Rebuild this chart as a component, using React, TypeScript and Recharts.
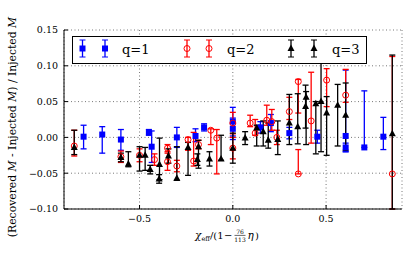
import { ScatterChart, Scatter, XAxis, YAxis, CartesianGrid, ErrorBar, Legend } from "recharts"

const SERIF = "'DejaVu Serif', serif"
const BLUE = "#0000ff"
const RED = "#ff0000"
const BLACK = "#000000"

const X_DOMAIN = [-0.905, 0.907]
const Y_DOMAIN = [-0.1, 0.15]
const X_TICKS = [-0.5, 0, 0.5]
const Y_TICKS = [-0.1, -0.05, 0, 0.05, 0.1, 0.15]

// q = 1
const q1Chi = [-0.8, -0.7, -0.6, -0.45, -0.435, -0.3, -0.2, -0.154, 0.0, 0.0, 0.148, 0.204, 0.303, 0.453, 0.605, 0.605, 0.705, 0.807]
const q1Dev = [0.001, 0.004, -0.003, 0.007, -0.013, 0.0, 0.002, 0.014, 0.022, 0.012, 0.014, 0.02, 0.006, 0.001, 0.002, -0.014, -0.014, 0.001]
const q1Err = [[0.017, 0.016], [0.026, 0.011], [0.015, 0.014], [0.004, 0.004], [0.022, 0.022], [0.014, 0.014], [0.008, 0.01], [0.005, 0.005], [0.02, 0.02], [0.015, 0.015], [0.008, 0.008], [0.012, 0.012], [0.008, 0.008], [0.009, 0.009], [0.022, 0.092], [0.006, 0.006], [0.0, 0.079], [0.018, 0.027]]

// q = 2
const q2Chi = [-0.85, -0.6, -0.5, -0.42, -0.35, -0.35, -0.3, -0.24, -0.21, -0.184, -0.118, -0.086, 0.0, 0.0, 0.093, 0.12, 0.182, 0.209, 0.236, 0.303, 0.351, 0.351, 0.42, 0.503, 0.605, 0.855]
const q2Dev = [-0.012, -0.027, -0.025, -0.031, -0.015, -0.034, -0.04, -0.003, -0.033, -0.01, 0.01, -0.001, -0.015, 0.02, 0.02, 0.006, 0.024, 0.022, 0.0, 0.036, 0.078, -0.051, 0.023, 0.08, 0.059, -0.051]
const q2Err = [[0.014, 0.022], [0.008, 0.008], [0.009, 0.009], [0.008, 0.008], [0.005, 0.005], [0.012, 0.012], [0.008, 0.008], [0.015, 0.003], [0.007, 0.04], [0.006, 0.006], [0.02, 0.002], [0.05, 0.012], [0.015, 0.015], [0.015, 0.015], [0.005, 0.011], [0.003, 0.019], [0.007, 0.021], [0.012, 0.017], [0.01, 0.01], [0.011, 0.02], [0.044, 0.003], [0.0, 0.034], [0.031, 0.068], [0.037, 0.016], [0.01, 0.036], [0.049, 0.164]]

// q = 3
const q3Chi = [-0.85, -0.6, -0.56, -0.5, -0.47, -0.443, -0.393, -0.395, -0.345, -0.3, -0.24, -0.184, -0.19, -0.125, -0.063, 0.0, 0.066, 0.128, 0.163, 0.19, 0.241, 0.303, 0.348, 0.393, 0.39, 0.445, 0.473, 0.503, 0.562, 0.605, 0.855]
const q3Dev = [-0.014, -0.028, -0.037, -0.025, -0.025, -0.045, -0.038, -0.058, -0.026, -0.057, -0.014, -0.013, -0.031, -0.03, -0.03, -0.015, -0.001, 0.013, 0.008, -0.004, -0.003, 0.02, 0.015, 0.056, 0.043, 0.047, 0.05, 0.034, 0.045, 0.031, 0.005]
const q3Err = [[0.01, 0.024], [0.006, 0.006], [0.004, 0.017], [0.022, 0.012], [0.021, 0.011], [0.006, 0.006], [0.021, 0.037], [0.006, 0.006], [0.01, 0.01], [0.003, 0.044], [0.039, 0.007], [0.03, 0.009], [0.008, 0.008], [0.01, 0.01], [0.002, 0.033], [0.021, 0.021], [0.009, 0.009], [0.025, 0.004], [0.02, 0.015], [0.011, 0.024], [0.021, 0.026], [0.03, 0.04], [0.024, 0.046], [0.066, 0.008], [0.03, 0.03], [0.07, 0.003], [0.07, 0.068], [0.059, 0.023], [0.057, 0.029], [0.049, 0.045], [0.105, 0.11]]

const q1Data = q1Chi.map((x, i) => ({ x, y: q1Dev[i], err: q1Err[i] }))
const q2Data = q2Chi.map((x, i) => ({ x, y: q2Dev[i], err: q2Err[i] }))
const q3Data = q3Chi.map((x, i) => ({ x, y: q3Dev[i], err: q3Err[i] }))

const Square = (p: any) => <rect x={p.cx - 3} y={p.cy - 3} width={6} height={6} fill={BLUE} />
const Ring = (p: any) => <circle cx={p.cx} cy={p.cy} r={3} fill="none" stroke={RED} strokeWidth={1} />
const Tri = (p: any) => (
  <polygon points={`${p.cx},${p.cy - 4} ${p.cx - 3.5},${p.cy + 2.5} ${p.cx + 3.5},${p.cy + 2.5}`} fill={BLACK} />
)

const fmtTick = (v: number) => {
  const s = Math.abs(v) < 1e-9 ? "0.00" : v.toFixed(2)
  return s.replace("-", "\u2212")
}
const fmtXTick = (v: number) => {
  const s = Math.abs(v) < 1e-9 ? "0.0" : v.toFixed(1)
  return s.replace("-", "\u2212")
}

function LegendMark({ x, color, kind }: { x: number; color: string; kind: string }) {
  const cy = 12.5
  return (
    <g>
      <line x1={x} x2={x} y1={4} y2={21} stroke={color} strokeWidth={1.3} />
      <line x1={x - 3} x2={x + 3} y1={4} y2={4} stroke={color} strokeWidth={1} />
      <line x1={x - 3} x2={x + 3} y1={21} y2={21} stroke={color} strokeWidth={1} />
      {kind === "sq" && <Square cx={x} cy={cy} />}
      {kind === "ci" && <Ring cx={x} cy={cy} />}
      {kind === "tr" && <Tri cx={x} cy={cy} />}
    </g>
  )
}

function LegendBox() {
  const items = [
    { a: 10.5, b: 33, t: 50, color: BLUE, kind: "sq", label: "q=1" },
    { a: 115, b: 137, t: 155, color: RED, kind: "ci", label: "q=2" },
    { a: 219, b: 242, t: 260, color: BLACK, kind: "tr", label: "q=3" },
  ]
  return (
    <svg width={295} height={28} style={{ display: "block" }}>
      <rect x={0.5} y={0.5} width={294} height={27} fill="#fff" stroke="#000" strokeWidth={1} />
      {items.map((it) => (
        <g key={it.label}>
          <LegendMark x={it.a} color={it.color} kind={it.kind} />
          <LegendMark x={it.b} color={it.color} kind={it.kind} />
          <text x={it.t} y={18} fontFamily={SERIF} fontSize={13} fill="#000">
            {it.label}
          </text>
        </g>
      ))}
    </svg>
  )
}

const YLabel = () => {
  const cx = 16
  const cy = 127
  return (
    <text x={cx} y={cy} transform={`rotate(-90 ${cx} ${cy})`} textAnchor="middle" fontFamily={SERIF} fontSize={10.8} fill="#000">
      (Recovered <tspan fontStyle="italic">M</tspan> - Injected <tspan fontStyle="italic">M</tspan>) / Injected{" "}
      <tspan fontStyle="italic">M</tspan>
    </text>
  )
}

const XLabel = ({ viewBox }: any) => {
  const c = viewBox.x + viewBox.width / 2
  const y = 239
  const f = { fontFamily: SERIF, fill: "#000" }
  return (
    <g>
      <text x={c - 38} y={y} fontSize={10.5} fontStyle="italic" {...f}>χ</text>
      <text x={c - 31.5} y={y + 1.5} fontSize={6.5} {...f}>eff</text>
      <text x={c - 23} y={y} fontSize={10} {...f}>/(1</text>
      <text x={c - 9} y={y} fontSize={10} {...f}>−</text>
      <text x={c + 7} y={y - 5.3} fontSize={6} textAnchor="middle" {...f}>76</text>
      <line x1={c + 1.5} x2={c + 12.5} y1={y - 3.6} y2={y - 3.6} stroke="#000" strokeWidth={0.6} />
      <text x={c + 7} y={y + 2.6} fontSize={6} textAnchor="middle" {...f}>113</text>
      <text x={c + 14.5} y={y} fontSize={10.5} fontStyle="italic" {...f}>η</text>
      <text x={c + 22} y={y} fontSize={10} {...f}>)</text>
    </g>
  )
}

const Title = ({ viewBox }: any) => (
  <text x={viewBox.x + viewBox.width / 2} y={25} textAnchor="middle" fontFamily={SERIF} fontSize={14.5} fill="#000">
    SEOBNRv2
  </text>
)

export default function App() {
  return (
    <div style={{ position: "absolute", left: 0, top: 0, background: "#fff" }}>
      <ScatterChart width={415} height={257} margin={{ top: 30, right: 13, bottom: 0, left: 0 }}>
        <CartesianGrid stroke="#555" strokeWidth={0.8} strokeDasharray="1 2.5" />
        <XAxis
          dataKey="x"
          type="number"
          domain={X_DOMAIN}
          ticks={X_TICKS}
          allowDataOverflow
          height={48}
          stroke="#000"
          tickSize={-4}
          tickMargin={10}
          tickFormatter={fmtXTick}
          tick={{ fill: "#000", fontFamily: SERIF, fontSize: 9.5 }}
          label={{ content: XLabel }}
        />
        <YAxis
          dataKey="y"
          type="number"
          domain={Y_DOMAIN}
          ticks={Y_TICKS}
          allowDataOverflow
          width={64}
          stroke="#000"
          tickSize={-4}
          tickMargin={10}
          tickFormatter={fmtTick}
          tick={{ fill: "#000", fontFamily: SERIF, fontSize: 9.5 }}
          label={{ content: YLabel }}
        />
        <XAxis
          xAxisId="top"
          orientation="top"
          type="number"
          domain={X_DOMAIN}
          ticks={X_TICKS}
          allowDataOverflow
          height={0}
          stroke="#000"
          tickSize={-4}
          tick={false}
          label={{ content: Title }}
        />
        <YAxis
          yAxisId="right"
          orientation="right"
          type="number"
          domain={Y_DOMAIN}
          ticks={Y_TICKS}
          allowDataOverflow
          width={0}
          stroke="#000"
          tickSize={-4}
          tick={false}
        />
        <Legend
          layout="horizontal"
          verticalAlign="middle"
          align="center"
          content={() => <LegendBox />}
          wrapperStyle={{ left: 72, top: 36, width: 295, height: 28 }}
        />
        <Scatter data={q1Data} fill={BLUE} shape={Square} isAnimationActive={false}>
          <ErrorBar dataKey="err" direction="y" width={3} stroke={BLUE} strokeWidth={1.3} />
        </Scatter>
        <Scatter data={q2Data} fill={RED} shape={Ring} isAnimationActive={false}>
          <ErrorBar dataKey="err" direction="y" width={3} stroke={RED} strokeWidth={1.3} />
        </Scatter>
        <Scatter data={q3Data} fill={BLACK} shape={Tri} isAnimationActive={false}>
          <ErrorBar dataKey="err" direction="y" width={3} stroke={BLACK} strokeWidth={1.3} />
        </Scatter>
      </ScatterChart>
    </div>
  )
}
